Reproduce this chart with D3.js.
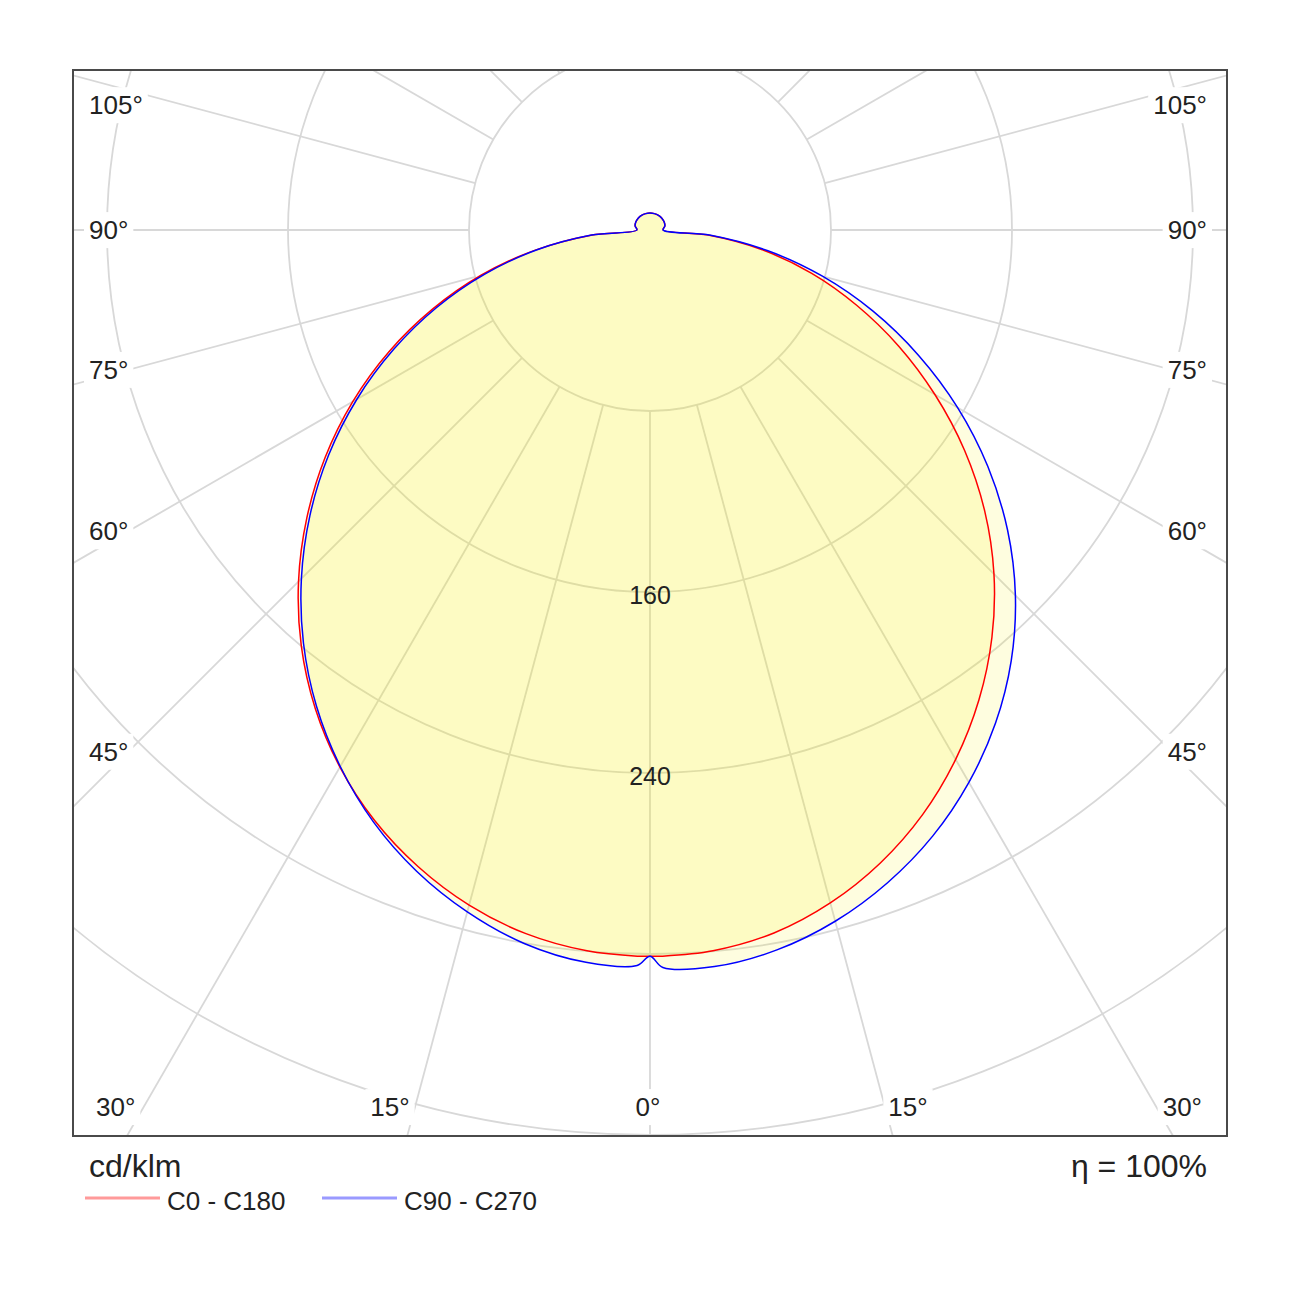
<!DOCTYPE html>
<html><head><meta charset="utf-8">
<script src="https://cdn.jsdelivr.net/npm/d3@7"></script>
<style>body{margin:0;background:#fff}svg{display:block}</style>
</head><body>
<svg id="chart" width="1300" height="1300"></svg>
<script>
// ---------------- data (cd/klm) ----------------
const gammas = [0,1,5,10,15,20,25,30,35,40,45,50,55,60,65,70,75,80,85,90,105,120,135,150,165,180];
const c0   = [321,321,319.8,315.5,307.9,297.7,285.1,270.2,253.5,235.1,215.0,193.1,169.7,145.4,121.2,97.2,74.0,50.4,25.8,5.8,6.8,7.2,7.4,7.5,7.5,7.5];
const c180 = [321,321,319.8,315.8,308.9,299.5,288.0,274.1,258.0,239.8,219.7,198.0,175.3,151.7,127.3,102.3,77.3,51.8,26.2,5.8,6.8,7.2,7.4,7.5,7.5,7.5];
const c90  = [321,326,326.8,323.1,316.3,307.0,295.6,281.9,266.2,248.4,228.4,206.3,182.3,157.0,130.9,104.9,78.9,52.9,26.9,5.8,6.8,7.2,7.4,7.5,7.5,7.5];
const c270 = [321,325.1,324.9,320.2,312.0,301.6,288.9,273.8,257.0,238.3,217.9,196.2,173.4,149.6,125.1,100.5,75.8,51.0,25.9,5.8,6.8,7.2,7.4,7.5,7.5,7.5];
const ringValues = [80,160,240,320,400,480];
const ringLabels = [160,240];
const spokeAngles = [0,15,30,45,60,75,90,105,120,135,150,165,180];
const angleLabels = [0,15,30,45,60,75,90,105];
const legendNames = ["C0 - C180","C90 - C270"];
const unitText = "cd/klm";
const etaText = "\u03B7 = 100%";

// ---------------- layout ----------------
const svg = d3.select("#chart");
const frame = {x0:73, y0:70, x1:1227, y1:1136};
const cx = 650, cy = 230;
const r = d3.scaleLinear().domain([0,400]).range([0,905]);
const rad = d => d*Math.PI/180;
const FONT = "'Liberation Sans', Arial, sans-serif";
const TXT = "#222";

svg.append("rect").attr("width",1300).attr("height",1300).attr("fill","#fff");
svg.append("defs").append("clipPath").attr("id","clip")
  .append("rect").attr("x",frame.x0).attr("y",frame.y0)
  .attr("width",frame.x1-frame.x0).attr("height",frame.y1-frame.y0);

const plot = svg.append("g").attr("clip-path","url(#clip)");
const g = plot.append("g").attr("transform",`translate(${cx},${cy})`);

// rings
g.selectAll("circle.ring").data(ringValues).join("circle")
  .attr("class","ring").attr("r",d=>r(d))
  .attr("fill","none").attr("stroke","#d8d8d8").attr("stroke-width",1.8);

// spokes (both sides), from first ring outward
const spokes = [];
spokeAngles.forEach(a=>{ spokes.push({a:Math.PI-rad(a)}); if(a>0&&a<180) spokes.push({a:Math.PI+rad(a)}); });
g.selectAll("line.spoke").data(spokes).join("line")
  .attr("class","spoke")
  .attr("x1",d=>d3.pointRadial(d.a,r(80))[0]).attr("y1",d=>d3.pointRadial(d.a,r(80))[1])
  .attr("x2",d=>d3.pointRadial(d.a,r(700))[0]).attr("y2",d=>d3.pointRadial(d.a,r(700))[1])
  .attr("stroke","#d8d8d8").attr("stroke-width",1.8);

// curves
function loop(right,left){
  const pts=[];
  gammas.forEach((gm,i)=>pts.push([Math.PI-rad(gm), r(right[i])]));
  for(let i=gammas.length-2;i>=1;i--) pts.push([Math.PI+rad(gammas[i]), r(left[i])]);
  return pts;
}
const radial = d3.lineRadial().angle(d=>d[0]).radius(d=>d[1]).curve(d3.curveCatmullRomClosed.alpha(0.5));
const curves = [
  {name:legendNames[0], pts:loop(c0,c180), color:"#ff0000"},
  {name:legendNames[1], pts:loop(c90,c270), color:"#0000ff"}
];
g.selectAll("path.fill").data(curves).join("path").attr("class","fill")
  .attr("d",d=>radial(d.pts)).attr("fill","rgb(245,238,0)").attr("fill-opacity",0.125).attr("stroke","none");
g.selectAll("path.line").data(curves).join("path").attr("class","line")
  .attr("d",d=>radial(d.pts)).attr("fill","none").attr("stroke",d=>d.color).attr("stroke-width",1.5);

// ring value labels
g.selectAll("text.rl").data(ringLabels).join("text").attr("class","rl")
  .attr("x",0).attr("y",d=>r(d)+3).attr("dy","0.35em")
  .attr("text-anchor","middle").attr("font-family",FONT).attr("font-size",25).attr("fill",TXT)
  .text(d=>d);

// angle labels
const lab = svg.append("g");
const fs = 26, bottomY = 1107, leftX = 89, rightX = 1207;
function addLabel(x,y,anchor,text){
  const gg = lab.append("g");
  const bg = gg.append("rect").attr("fill","#fff");
  const t = gg.append("text").attr("x",x).attr("y",y).attr("dy","0.35em")
    .attr("text-anchor",anchor).attr("font-family",FONT).attr("font-size",fs).attr("fill",TXT).text(text);
  const b = t.node().getBBox();
  bg.attr("x",b.x-5).attr("y",b.y-3).attr("width",b.width+10).attr("height",b.height+6);
  return t;
}
function measure(text){
  const t = svg.append("text").attr("font-family",FONT).attr("font-size",fs).text(text);
  const w = t.node().getComputedTextLength(); t.remove(); return w;
}
angleLabels.forEach(a=>{
  const txt = a+"\u00B0";
  if(a<=30){
    const off = (bottomY-cy)*Math.tan(rad(a));
    [-1,1].forEach(s=>{
      if(a===0 && s===1) return;
      const shift = a===0?0:(a===30?28:25);
      addLabel(cx + s*(off+shift) - (a===0?2:0) + (s>0?-2:0), bottomY, "middle", txt);
    });
  } else {
    const w = measure(txt);
    const cot = Math.cos(rad(a))/Math.sin(rad(a));
    const extra = a>90 ? 11 : 0;
    const xr = leftX + w;
    addLabel(leftX, cy + (cx-xr)*cot + extra, "start", txt);
    const xl = rightX - w;
    addLabel(rightX, cy + (cx-xr)*cot + extra, "end", txt);
  }
});

// frame
svg.append("rect").attr("x",frame.x0).attr("y",frame.y0)
  .attr("width",frame.x1-frame.x0).attr("height",frame.y1-frame.y0)
  .attr("fill","none").attr("stroke","#4a4a4a").attr("stroke-width",2);

// unit and efficiency
svg.append("text").attr("x",89).attr("y",1177).attr("font-family",FONT).attr("font-size",32)
  .attr("fill",TXT).text(unitText);
svg.append("text").attr("x",1207).attr("y",1177).attr("text-anchor","end").attr("font-family",FONT)
  .attr("font-size",32).attr("fill",TXT).text(etaText);

// legend
const legColors = ["#ff9a9a","#9a9aff"];
const legX = [85,322];
legendNames.forEach((n,i)=>{
  svg.append("line").attr("x1",legX[i]).attr("x2",legX[i]+75).attr("y1",1198).attr("y2",1198)
    .attr("stroke",legColors[i]).attr("stroke-width",3);
  svg.append("text").attr("x",legX[i]+82).attr("y",1201).attr("dy","0.35em")
    .attr("font-family",FONT).attr("font-size",26).attr("fill",TXT).text(n);
});
</script>
</body></html>
